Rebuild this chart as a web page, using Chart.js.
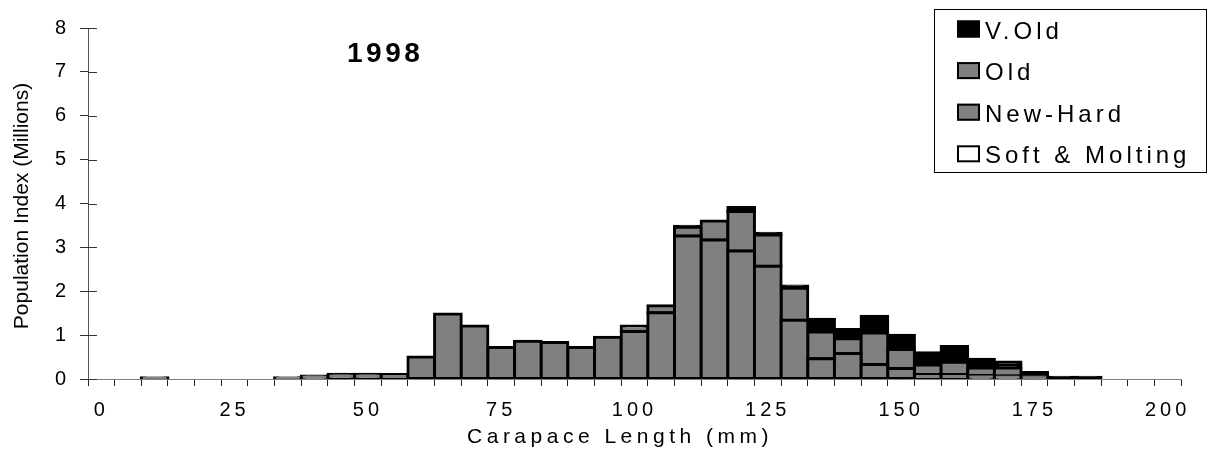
<!DOCTYPE html>
<html>
<head>
<meta charset="utf-8">
<title>1998 Carapace Length</title>
<script src="https://cdn.jsdelivr.net/npm/chart.js@4/dist/chart.umd.min.js"></script>
<style>
  html, body { margin: 0; padding: 0; background: #fff; }
  #wrap { position: relative; width: 1209px; height: 451px; }
</style>
</head>
<body>
<div id="wrap"><canvas id="chart"></canvas></div>
<script>
// 5 mm size classes (carapace length, mm)
const sizeClasses = [0, 5, 10, 15, 20, 25, 30, 35, 40, 45, 50, 55, 60, 65, 70, 75, 80, 85, 90, 95,
  100, 105, 110, 115, 120, 125, 130, 135, 140, 145, 150, 155, 160, 165, 170, 175, 180, 185, 190, 195, 200];

// population index (millions) per shell condition, stacked bottom to top
const softMolting = [null, null, null, null, null, null, null, null, null, null,
  null, null, null, null, null, null, null, null, null, null,
  null, null, null, null, null, null, null, null, null, null,
  null, null, null, null, null, null, null, null, null, null, null];
const newHard = [null, null, 0.03, null, null, null, null, 0.03, 0.07, 0.11,
  0.11, 0.10, 0.50, 1.48, 1.21, 0.72, 0.86, 0.83, 0.72, 0.95,
  1.08, 1.51, 3.26, 3.17, 2.92, 2.57, 1.34, 0.46, 0.58, 0.33,
  0.24, 0.10, 0.10, 0.08, 0.07, 0.02, null, null, null, null, null];
const old = [null, null, null, null, null, null, null, null, null, null,
  null, null, null, null, null, null, null, null, null, null,
  0.13, 0.16, 0.20, 0.43, 0.90, 0.71, 0.73, 0.61, 0.34, 0.72,
  0.43, 0.22, 0.28, 0.17, 0.18, 0.04, null, null, null, null, null];
const veryOld = [null, null, null, null, null, null, null, null, null, null,
  null, null, null, null, null, null, null, null, null, null,
  null, null, 0.02, null, 0.09, 0.04, 0.05, 0.29, 0.21, 0.38,
  0.33, 0.28, 0.36, 0.20, 0.14, 0.09, 0.04, 0.04, null, null, null];

const yTicks = [0, 1, 2, 3, 4, 5, 6, 7, 8];

const FONT = '"Liberation Sans", Arial, Helvetica, sans-serif';

function barSet(label, data, fill) {
  return {
    label: label,
    data: data,
    backgroundColor: fill,
    borderColor: '#000',
    borderWidth: 3,
    borderSkipped: false,
    inflateAmount: 1.5,
    categoryPercentage: 1,
    barPercentage: 1
  };
}

// spaced-out text, the way the old spreadsheet export draws it
function drawText(ctx, text, x, y, font, spacing, align) {
  ctx.save();
  ctx.font = font;
  ctx.letterSpacing = spacing + 'px';
  ctx.fillStyle = '#000';
  ctx.textAlign = align || 'left';
  ctx.textBaseline = 'alphabetic';
  ctx.fillText(text, x, y);
  ctx.restore();
}

const decorations = {
  id: 'decorations',
  beforeDraw(chart) {
    chart.ctx.letterSpacing = '4px';
  },
  afterDraw(chart) {
    const ctx = chart.ctx;
    const yScale = chart.scales.y;
    const left = chart.chartArea.left;

    // inner half of the y tick marks
    ctx.save();
    ctx.letterSpacing = '0px';
    ctx.strokeStyle = '#333';
    ctx.lineWidth = 1;
    yTicks.forEach(v => {
      const py = Math.round(yScale.getPixelForValue(v)) + 0.5;
      ctx.beginPath();
      ctx.moveTo(left, py);
      ctx.lineTo(left + 9, py);
      ctx.stroke();
    });
    ctx.restore();

    // titles
    drawText(ctx, '1998', 347, 62, 'bold 28px ' + FONT, 3.5);
    drawText(ctx, 'Carapace Length (mm)', 620, 443, '21px ' + FONT, 4.5, 'center');

    ctx.save();
    ctx.letterSpacing = '0px';
    ctx.translate(22, 206);
    ctx.rotate(-Math.PI / 2);
    ctx.font = '21px ' + FONT;
    ctx.fillStyle = '#000';
    ctx.textAlign = 'center';
    ctx.textBaseline = 'middle';
    ctx.fillText('Population Index (Millions)', 0, 0);
    ctx.restore();

    // legend box, top series first
    ctx.save();
    ctx.letterSpacing = '0px';
    ctx.strokeStyle = '#000';
    ctx.lineWidth = 1;
    ctx.strokeRect(934.5, 9.5, 272, 163);
    ctx.restore();

    const items = chart.data.datasets.slice().reverse();
    items.forEach((ds, i) => {
      const base = 38.5 + i * 41.6;
      ctx.save();
      ctx.fillStyle = ds.backgroundColor;
      ctx.fillRect(957, base - 18, 23, 17);
      ctx.strokeStyle = '#000';
      ctx.lineWidth = 2;
      ctx.strokeRect(958, base - 17, 21, 15);
      ctx.restore();
      drawText(ctx, ds.label, 985, base, '24px ' + FONT, 4);
    });

    ctx.letterSpacing = '0px';
  }
};

new Chart(document.getElementById('chart'), {
  type: 'bar',
  data: {
    labels: sizeClasses,
    datasets: [
      barSet('Soft & Molting', softMolting, '#ffffff'),
      barSet('New-Hard', newHard, '#808080'),
      barSet('Old', old, '#808080'),
      barSet('V.Old', veryOld, '#000000')
    ]
  },
  options: {
    responsive: true,
    maintainAspectRatio: false,
    animation: false,
    layout: { padding: { left: 0, top: 28, right: 28, bottom: 0 } },
    plugins: {
      legend: { display: false },
      title: { display: false },
      tooltip: { enabled: false }
    },
    scales: {
      x: {
        stacked: true,
        offset: true,
        afterFit(scale) { scale.height = 72; },
        grid: { offset: true, drawOnChartArea: false, tickLength: 7, color: '#222', lineWidth: 1 },
        border: { color: '#808080', width: 1 },
        ticks: {
          autoSkip: false,
          maxRotation: 0,
          minRotation: 0,
          padding: 12,
          color: '#000',
          font: { family: FONT, size: 20 },
          callback(value, index) {
            const v = sizeClasses[index];
            return v % 25 === 0 ? String(v) : '';
          }
        }
      },
      y: {
        stacked: true,
        min: 0,
        max: 8,
        afterFit(scale) { scale.width = 88; },
        grid: { drawOnChartArea: false, tickLength: 8, color: '#333', lineWidth: 1 },
        border: { color: '#555', width: 1 },
        ticks: {
          stepSize: 1,
          padding: 10,
          color: '#000',
          font: { family: FONT, size: 20 }
        }
      }
    }
  },
  plugins: [decorations]
});
</script>
</body>
</html>
